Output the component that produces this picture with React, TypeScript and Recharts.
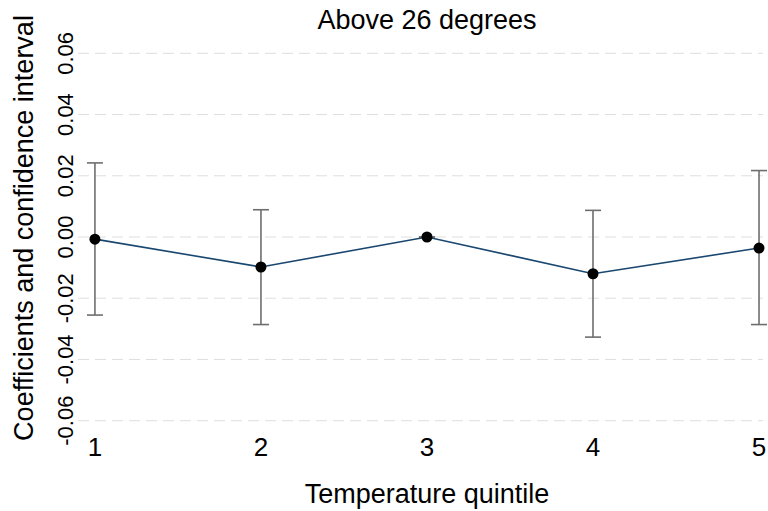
import { LineChart, Line, XAxis, YAxis, CartesianGrid, ErrorBar } from "recharts";

const quintiles = [1, 2, 3, 4, 5];
const coefficients = [-0.0007, -0.0098, 0.0, -0.012, -0.0036];
const ciLow = [-0.0255, -0.0286, 0.0, -0.0327, -0.0286];
const ciHigh = [0.0242, 0.0089, 0.0, 0.0087, 0.0217];
const yTicks = [-0.06, -0.04, -0.02, 0.0, 0.02, 0.04, 0.06];

const chartTitle = "Above 26 degrees";
const xTitle = "Temperature quintile";
const yTitle = "Coefficients and confidence interval";

const data = quintiles.map((q, i) => ({
  q,
  coef: coefficients[i],
  ci: [coefficients[i] - ciLow[i], ciHigh[i] - coefficients[i]],
}));

const FONT = "'Liberation Sans', Arial, sans-serif";

const YTick = (props: any) => {
  const { y, payload } = props;
  const tx = 73;
  return (
    <text
      x={tx}
      y={y}
      transform={`rotate(-90 ${tx} ${y})`}
      textAnchor="middle"
      fontSize={22}
      fontFamily={FONT}
      fill="#000"
    >
      {payload.value.toFixed(2)}
    </text>
  );
};

const XTick = (props: any) => {
  const { x, payload } = props;
  return (
    <text x={x} y={456} textAnchor="middle" fontSize={26} fontFamily={FONT} fill="#000">
      {payload.value}
    </text>
  );
};

export default function App() {
  return (
    <div style={{ position: "absolute", left: 0, top: 0, width: 768, height: 511, background: "#fff" }}>
      <LineChart
        width={768}
        height={511}
        data={data}
        margin={{ top: 38, right: 5, left: 0, bottom: 45 }}
      >
        <CartesianGrid
          vertical={false}
          horizontalValues={yTicks}
          stroke="#dedede"
          strokeDasharray="11 6"
        />
        <XAxis
          dataKey="q"
          type="number"
          domain={[0.898, 5.024]}
          ticks={quintiles}
          axisLine={false}
          tickLine={false}
          tick={<XTick />}
          height={30}
        />
        <YAxis
          type="number"
          domain={[-0.065, 0.065]}
          ticks={yTicks}
          axisLine={false}
          tickLine={false}
          tick={<YTick />}
          width={78}
        />
        <Line
          dataKey="coef"
          stroke="#1a476f"
          strokeWidth={1.6}
          dot={{ r: 5.5, fill: "#000", stroke: "#000", strokeWidth: 0 }}
          isAnimationActive={false}
        >
          <ErrorBar dataKey="ci" width={8} stroke="#6e6e6e" strokeWidth={1.6} direction="y" />
        </Line>
      </LineChart>
      <svg
        width={768}
        height={511}
        style={{ position: "absolute", left: 0, top: 0, pointerEvents: "none" }}
      >
        <text x={427} y={29} textAnchor="middle" fontSize={27} fontFamily={FONT} fill="#000">
          {chartTitle}
        </text>
        <text x={427} y={503} textAnchor="middle" fontSize={27} fontFamily={FONT} fill="#000">
          {xTitle}
        </text>
        <text
          x={33}
          y={228}
          transform="rotate(-90 33 228)"
          textAnchor="middle"
          fontSize={27}
          fontFamily={FONT}
          fill="#000"
        >
          {yTitle}
        </text>
      </svg>
    </div>
  );
}
